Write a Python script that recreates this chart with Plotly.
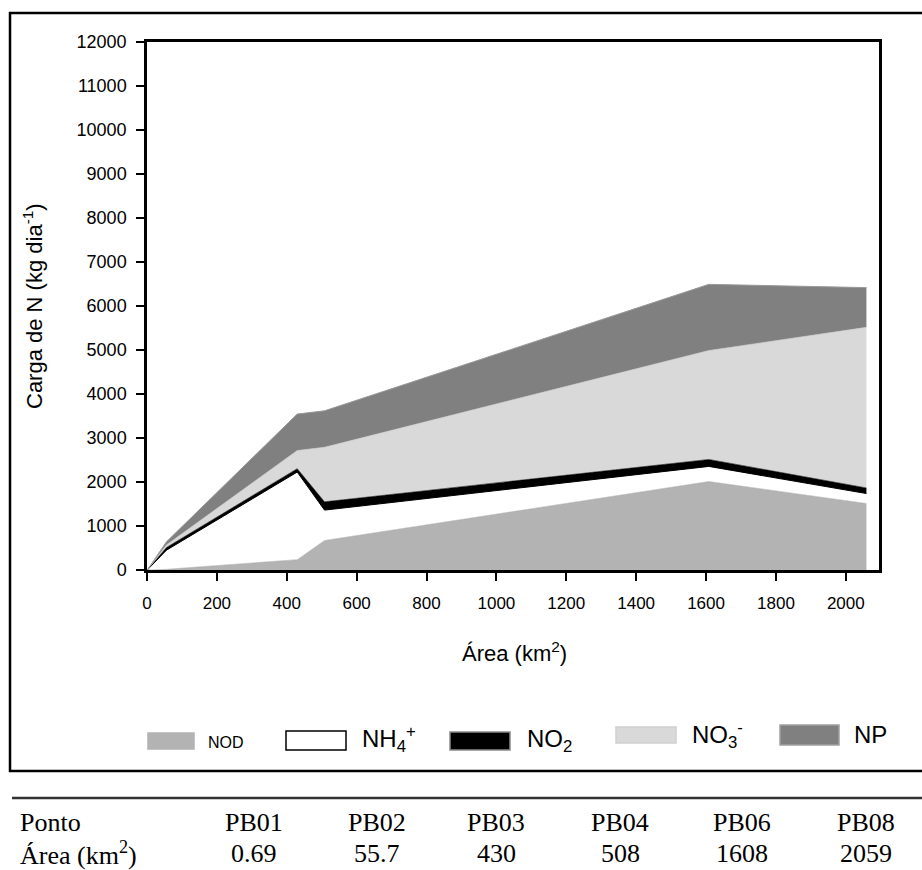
import plotly.graph_objects as go

# Sampling points along the river and their drainage areas (km²)
pontos = ["PB01", "PB02", "PB03", "PB04", "PB06", "PB08"]
area_km2 = [0.69, 55.7, 430, 508, 1608, 2059]

# Nitrogen load per fraction (kg dia⁻¹), stacked bottom to top
nod = [0, 15, 235, 670, 2010, 1510]
nh4 = [0, 436, 1991, 691, 344, 228]
no2 = [0, 60, 76, 188, 158, 127]
no3 = [0, 60, 413, 1241, 2476, 3650]
np_load = [0, 70, 829, 828, 1504, 903]

y_ticks = list(range(0, 12001, 1000))
y_tick_labels = [str(v) for v in y_ticks]
x_ticks = list(range(0, 2001, 200))
x_tick_labels = [str(v) for v in x_ticks]

FIG_W, FIG_H = 922, 870
M_L, M_R, M_T, M_B = 147, 43, 42, 300
PLOT_W = FIG_W - M_L - M_R
PLOT_H = FIG_H - M_T - M_B


def px(x):
    """Page pixel column -> paper x."""
    return (x - M_L) / PLOT_W


def py(y):
    """Page pixel row -> paper y."""
    return (FIG_H - M_B - y) / PLOT_H


SANS = "Liberation Sans, Arial, sans-serif"
SERIF = "Liberation Serif, Times New Roman, serif"

series = [
    ("NOD", nod, "#b3b3b3", "#a9a9a9", 0.6),
    ("NH4+", nh4, "#ffffff", "#000000", 1.0),
    ("NO2", no2, "#000000", "#000000", 0.6),
    ("NO3-", no3, "#d9d9d9", "#cfcfcf", 0.6),
    ("NP", np_load, "#808080", "#999999", 1.0),
]

fig = go.Figure()
for name, vals, fill, lc, lw in series:
    fig.add_trace(go.Scatter(
        x=area_km2, y=vals, name=name, mode="lines",
        stackgroup="n", fillcolor=fill,
        line=dict(color=lc, width=lw, shape="linear"),
        showlegend=False, hoverinfo="skip",
    ))

fig.update_layout(
    width=FIG_W, height=FIG_H,
    margin=dict(l=M_L, r=M_R, t=M_T, b=M_B, pad=0),
    paper_bgcolor="white", plot_bgcolor="white",
    font=dict(family=SANS, color="black", size=16),
    showlegend=False,
)

axis_common = dict(
    showgrid=False, zeroline=False, showline=True, linewidth=2.5,
    linecolor="black", mirror=True, ticks="outside", ticklen=8,
    tickwidth=2, tickcolor="black",
)
fig.update_xaxes(range=[0, 2095], tickmode="array", tickvals=x_ticks,
                 ticktext=x_tick_labels, tickfont=dict(size=17, family=SANS),
                 ticklabelstandoff=8, **axis_common)
fig.update_yaxes(range=[0, 12000], tickmode="array", tickvals=y_ticks,
                 ticktext=y_tick_labels, tickfont=dict(size=18, family=SANS),
                 ticklabelstandoff=6, **axis_common)

shapes = []
annotations = []

# Axis titles
annotations.append(dict(
    x=px(514), y=py(652), xref="paper", yref="paper", showarrow=False,
    text="Área (km<sup>2</sup>)", font=dict(size=22, family=SANS),
    xanchor="center", yanchor="middle",
))
annotations.append(dict(
    x=px(33), y=py(306), xref="paper", yref="paper", showarrow=False,
    text="Carga de N (kg dia<sup>-1</sup>)", textangle=-90,
    font=dict(size=22, family=SANS), xanchor="center", yanchor="middle",
))

# Outer frame around chart and key
shapes.append(dict(type="rect", xref="paper", yref="paper",
                   x0=px(10), x1=px(940), y0=py(771), y1=py(13),
                   line=dict(color="black", width=2.5), fillcolor="rgba(0,0,0,0)"))

# Key: swatches and labels
key_items = [
    # (x0, x1, y0, y1, fill, border, label, label_x, label_y, size)
    (148, 194, 733, 749, "#b3b3b3", "#b3b3b3", "NOD", 206, 742, 16),
    (286, 346, 731, 750, "#ffffff", "#000000", "NH<sub>4</sub><sup>+</sup>", 360, 739, 24),
    (450, 510, 732, 750, "#000000", "#8a8a8a", "NO<sub>2</sub>", 525, 740, 24),
    (616, 676, 727, 743, "#d9d9d9", "#d0d0d0", "NO<sub>3</sub><sup>-</sup>", 690, 735, 24),
    (780, 839, 725, 745, "#808080", "#a0a0a0", "NP", 852, 734, 24),
]
for x0, x1, y0, y1, fill, border, label, lx, ly, size in key_items:
    shapes.append(dict(type="rect", xref="paper", yref="paper",
                       x0=px(x0), x1=px(x1), y0=py(y1), y1=py(y0),
                       fillcolor=fill, line=dict(color=border, width=1.5)))
    annotations.append(dict(x=px(lx), y=py(ly), xref="paper", yref="paper",
                            showarrow=False, text=label,
                            font=dict(size=size, family=SANS),
                            xanchor="left", yanchor="middle"))

# Table of sampling points below the chart
shapes.append(dict(type="line", xref="paper", yref="paper",
                   x0=px(12), x1=px(922), y0=py(798), y1=py(798),
                   line=dict(color="#333333", width=2.5)))
row_y = [822, 853]
table_font = dict(size=26, family=SERIF)
annotations.append(dict(x=px(18), y=py(row_y[0]), xref="paper", yref="paper",
                        showarrow=False, text="Ponto", xanchor="left",
                        yanchor="middle", font=table_font))
annotations.append(dict(x=px(18), y=py(row_y[1]), xref="paper", yref="paper",
                        showarrow=False, text="Área (km<sup>2</sup>)",
                        xanchor="left", yanchor="middle", font=table_font))
col_centers = [254, 377, 496, 620, 742, 866]
for cx, p, a in zip(col_centers, pontos, area_km2):
    annotations.append(dict(x=px(cx), y=py(row_y[0]), xref="paper", yref="paper",
                            showarrow=False, text=p, xanchor="center",
                            yanchor="middle", font=table_font))
    annotations.append(dict(x=px(cx), y=py(row_y[1]), xref="paper", yref="paper",
                            showarrow=False, text=f"{a:g}", xanchor="center",
                            yanchor="middle", font=table_font))

fig.update_layout(shapes=shapes, annotations=annotations)
fig.write_html("out.html")
